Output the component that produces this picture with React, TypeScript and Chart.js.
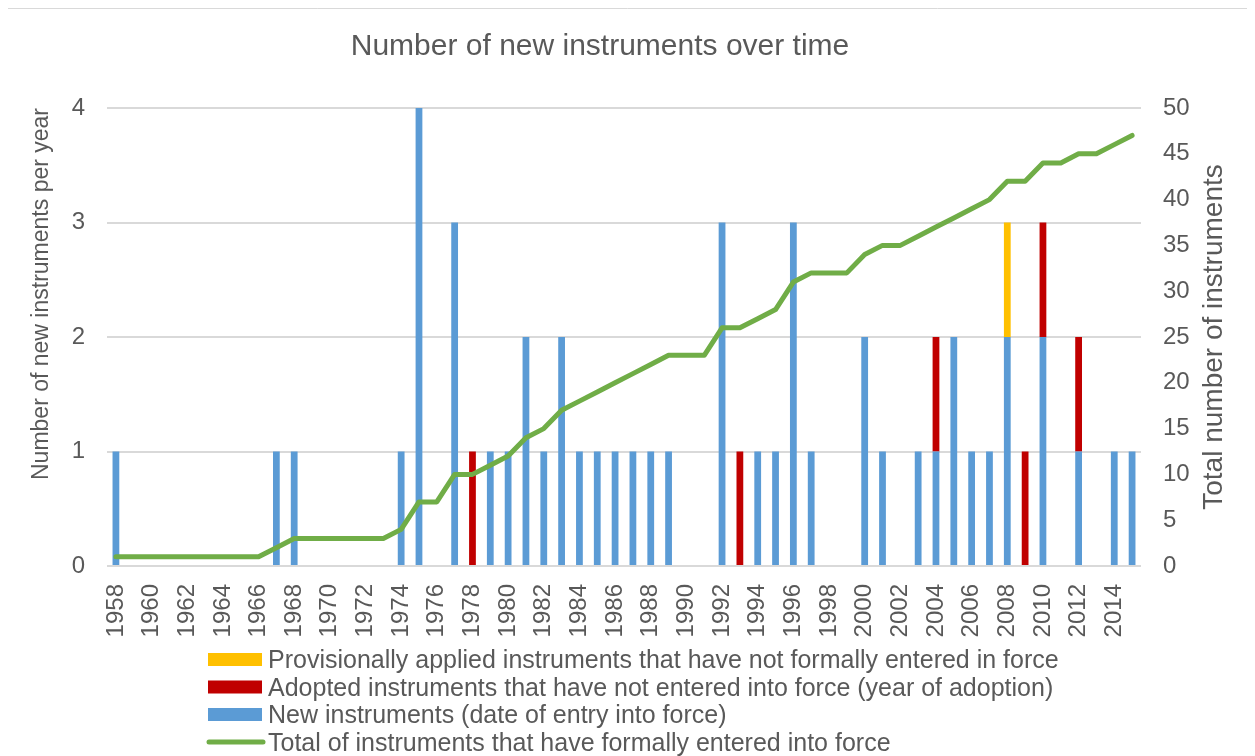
import React, { useEffect, useRef } from "react";
import { Chart, registerables } from "chart.js";

Chart.register(...registerables);

const FONT = "'Liberation Sans', Arial, Helvetica, sans-serif";
const TEXT = "#595959";
const GRID = "#d9d9d9";

const chartTitle = "Number of new instruments over time";
const leftAxisTitle = "Number of new instruments per year";
const rightAxisTitle = "Total number of instruments";

const years = [
  "1958", "1959", "1960", "1961", "1962", "1963", "1964", "1965", "1966", "1967",
  "1968", "1969", "1970", "1971", "1972", "1973", "1974", "1975", "1976", "1977",
  "1978", "1979", "1980", "1981", "1982", "1983", "1984", "1985", "1986", "1987",
  "1988", "1989", "1990", "1991", "1992", "1993", "1994", "1995", "1996", "1997",
  "1998", "1999", "2000", "2001", "2002", "2003", "2004", "2005", "2006", "2007",
  "2008", "2009", "2010", "2011", "2012", "2013", "2014", "2015",
];

// New instruments (date of entry into force)
const newInstruments = [
  1, 0, 0, 0, 0, 0, 0, 0, 0, 1,
  1, 0, 0, 0, 0, 0, 1, 4, 0, 3,
  0, 1, 1, 2, 1, 2, 1, 1, 1, 1,
  1, 1, 0, 0, 3, 0, 1, 1, 3, 1,
  0, 0, 2, 1, 0, 1, 1, 2, 1, 1,
  2, 0, 2, 0, 1, 0, 1, 1,
];

// Adopted instruments that have not entered into force (year of adoption)
const adopted = [
  0, 0, 0, 0, 0, 0, 0, 0, 0, 0,
  0, 0, 0, 0, 0, 0, 0, 0, 0, 0,
  1, 0, 0, 0, 0, 0, 0, 0, 0, 0,
  0, 0, 0, 0, 0, 1, 0, 0, 0, 0,
  0, 0, 0, 0, 0, 0, 1, 0, 0, 0,
  0, 1, 1, 0, 1, 0, 0, 0,
];

// Provisionally applied instruments that have not formally entered in force
const provisional = [
  0, 0, 0, 0, 0, 0, 0, 0, 0, 0,
  0, 0, 0, 0, 0, 0, 0, 0, 0, 0,
  0, 0, 0, 0, 0, 0, 0, 0, 0, 0,
  0, 0, 0, 0, 0, 0, 0, 0, 0, 0,
  0, 0, 0, 0, 0, 0, 0, 0, 0, 0,
  1, 0, 0, 0, 0, 0, 0, 0,
];

// Total of instruments that have formally entered into force
const totalInForce = [
  1, 1, 1, 1, 1, 1, 1, 1, 1, 2,
  3, 3, 3, 3, 3, 3, 4, 7, 7, 10,
  10, 11, 12, 14, 15, 17, 18, 19, 20, 21,
  22, 23, 23, 23, 26, 26, 27, 28, 31, 32,
  32, 32, 34, 35, 35, 36, 37, 38, 39, 40,
  42, 42, 44, 44, 45, 45, 46, 47,
];

const legendItems = [
  { label: "Provisionally applied instruments that have not formally entered in force", color: "#ffc000", kind: "box" },
  { label: "Adopted instruments that have not entered into force (year of adoption)", color: "#c00000", kind: "box" },
  { label: "New instruments (date of entry into force)", color: "#5b9bd5", kind: "box" },
  { label: "Total of instruments that have formally entered into force", color: "#70ad47", kind: "line" },
];

const W = 1247;
const H = 748;

const decorPlugin = {
  id: "decor",
  afterDraw(chart: any) {
    const ctx = chart.ctx as CanvasRenderingContext2D;
    const area = chart.chartArea;
    ctx.save();
    // frame
    ctx.strokeStyle = GRID;
    ctx.lineWidth = 1;
    ctx.beginPath();
    ctx.moveTo(0, 0.5);
    ctx.lineTo(1239.5, 0.5);
    ctx.lineTo(1239.5, H);
    ctx.stroke();
    // title
    ctx.fillStyle = TEXT;
    ctx.font = `30px ${FONT}`;
    ctx.textAlign = "center";
    ctx.textBaseline = "alphabetic";
    ctx.fillText(chartTitle, 592, 47);
    // right axis title (reads bottom to top)
    ctx.save();
    ctx.translate(1206, (area.top + area.bottom) / 2);
    ctx.rotate(-Math.PI / 2);
    ctx.font = `28px ${FONT}`;
    ctx.textAlign = "center";
    ctx.textBaseline = "middle";
    ctx.fillText(rightAxisTitle, 0, 0);
    ctx.restore();
    // legend
    ctx.font = `25px ${FONT}`;
    ctx.textAlign = "left";
    ctx.textBaseline = "alphabetic";
    legendItems.forEach((item, i) => {
      const cy = 651.5 + i * 27.5;
      if (item.kind === "box") {
        ctx.fillStyle = item.color;
        ctx.fillRect(200, cy - 6.5, 54, 13);
      } else {
        ctx.strokeStyle = item.color;
        ctx.lineWidth = 5;
        ctx.lineCap = "round";
        ctx.beginPath();
        ctx.moveTo(201, cy);
        ctx.lineTo(255, cy);
        ctx.stroke();
      }
      ctx.fillStyle = TEXT;
      ctx.fillText(item.label, 260, cy + 8.5);
    });
    ctx.restore();
  },
};

export default function App() {
  const canvasRef = useRef<HTMLCanvasElement | null>(null);

  useEffect(() => {
    if (!canvasRef.current) return;
    Chart.defaults.font.family = FONT;
    const chart = new Chart(canvasRef.current, {
      type: "bar",
      data: {
        labels: years,
        datasets: [
          {
            type: "line",
            label: legendItems[3].label,
            data: totalInForce,
            yAxisID: "y1",
            borderColor: "#70ad47",
            backgroundColor: "#70ad47",
            borderWidth: 5,
            pointRadius: 0,
            tension: 0,
            borderJoinStyle: "round",
            borderCapStyle: "round",
            order: 0,
          } as any,
          {
            type: "bar",
            label: legendItems[2].label,
            data: newInstruments,
            backgroundColor: "#5b9bd5",
            yAxisID: "y",
            stack: "s",
            order: 1,
            barPercentage: 0.38,
            categoryPercentage: 1,
          },
          {
            type: "bar",
            label: legendItems[1].label,
            data: adopted,
            backgroundColor: "#c00000",
            yAxisID: "y",
            stack: "s",
            order: 1,
            barPercentage: 0.38,
            categoryPercentage: 1,
          },
          {
            type: "bar",
            label: legendItems[0].label,
            data: provisional,
            backgroundColor: "#ffc000",
            yAxisID: "y",
            stack: "s",
            order: 1,
            barPercentage: 0.38,
            categoryPercentage: 1,
          },
        ],
      },
      options: {
        responsive: false,
        animation: false,
        layout: { padding: { top: 100, bottom: 110, left: 0, right: 0 } },
        plugins: {
          legend: { display: false },
          title: { display: false },
          tooltip: { enabled: false },
        },
        scales: {
          x: {
            stacked: true,
            grid: { display: false, drawTicks: false },
            border: { display: false },
            ticks: {
              autoSkip: false,
              minRotation: 90,
              maxRotation: 90,
              padding: 18,
              color: TEXT,
              font: { size: 24, family: FONT },
              callback: (_v: any, idx: number) => (idx % 2 === 0 ? years[idx] : ""),
            },
            afterFit: (s: any) => {
              s.height = 80;
            },
          },
          y: {
            type: "linear",
            position: "left",
            stacked: true,
            min: 0,
            max: 4,
            grid: { color: GRID, lineWidth: 2, drawTicks: false },
            border: { display: false },
            ticks: {
              stepSize: 1,
              padding: 22,
              color: TEXT,
              font: { size: 24, family: FONT },
            },
            title: {
              display: true,
              text: leftAxisTitle,
              align: "end",
              color: TEXT,
              font: { size: 23, family: FONT },
              padding: { top: 20, bottom: 0 },
            },
            afterFit: (s: any) => {
              s.width = 99;
            },
          },
          y1: {
            type: "linear",
            position: "right",
            min: 0,
            max: 50,
            grid: { drawOnChartArea: false, drawTicks: false },
            border: { display: false },
            ticks: {
              stepSize: 5,
              padding: 22,
              color: TEXT,
              font: { size: 24, family: FONT },
            },
            title: { display: false },
            afterFit: (s: any) => {
              s.width = W - 1133;
            },
          },
        },
      } as any,
      plugins: [decorPlugin],
    });
    return () => chart.destroy();
  }, []);

  return (
    <div style={{ width: W, height: H }}>
      <canvas ref={canvasRef} width={W} height={H} style={{ display: "block" }} />
    </div>
  );
}
